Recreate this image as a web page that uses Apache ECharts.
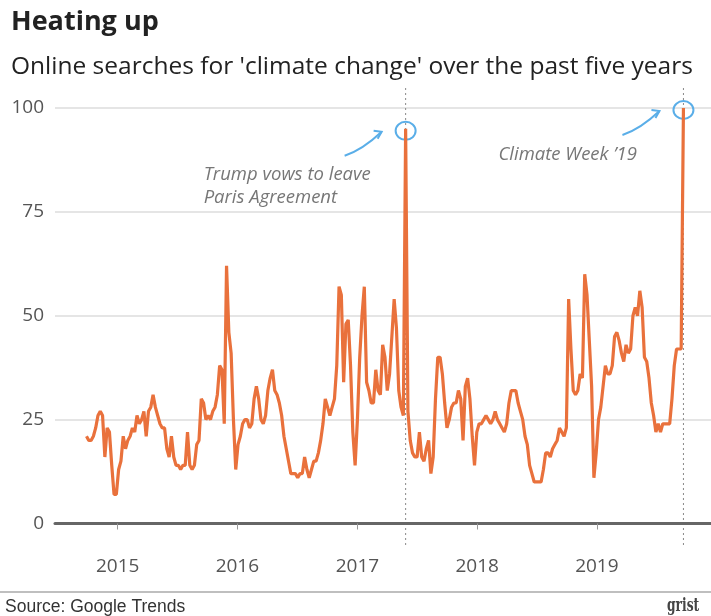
<!DOCTYPE html>
<html>
<head>
<meta charset="utf-8">
<script src="https://cdn.jsdelivr.net/npm/echarts@6/dist/echarts.min.js"></script>
<style>
  html, body { margin: 0; padding: 0; background: #fff; }
  #chart { width: 711px; height: 616px; }
</style>
</head>
<body>
<div id="chart"></div>
<script>
// weekly Google Trends index, first week starts 2014-09-28
const firstWeek = '2014-09-28';
const searchIndex = [
  21, 20, 20, 21, 23, 26, 27, 26, 16, 23, 22, 14, 7, 7, 13, 15, 21, 18, 20, 21,
  23, 22, 26, 24, 25, 27, 21, 27, 28, 31, 28, 26, 24, 23, 23, 18, 16, 21, 16, 14,
  14, 13, 14, 14, 22, 14, 13, 14, 19, 20, 30, 29,
  25, 26, 25, 27, 28, 31, 38, 37, 24, 62, 46, 41, 25, 13, 19, 21, 24, 25, 25, 23,
  24, 30, 33, 30, 25, 24, 26, 32, 35, 37, 32, 31, 29, 26, 21, 18, 15, 12, 12, 12,
  11, 12, 12, 16, 13, 11, 13, 15, 15, 17, 20, 24, 30,
  28, 26, 28, 30, 38, 57, 55, 34, 48, 49, 38, 22, 14, 25, 40, 50, 57, 34, 32, 29,
  29, 37, 32, 31, 43, 40, 32, 36, 45, 54, 47, 32, 28, 26, 95, 27, 20, 17, 16, 16,
  22, 16, 15, 18, 20, 12, 16, 30, 40, 40, 36, 29,
  23, 25, 28, 29, 29, 32, 30, 20, 33, 35, 30, 21, 14, 22, 24, 24, 25, 26, 25, 24,
  25, 27, 25, 24, 23, 22, 24, 29, 32, 32, 32, 29, 27, 25, 21, 19, 14, 12, 10, 10,
  10, 10, 13, 17, 17, 16, 18, 19, 20, 23, 22, 21,
  23, 54, 42, 32, 31, 32, 36, 35, 60, 55, 44, 33, 11, 17, 25, 28, 33, 38, 36, 36,
  38, 45, 46, 44, 41, 39, 43, 41, 42, 50, 52, 50, 56, 52, 40, 39, 35, 29, 26, 22,
  24, 22, 24, 24, 24, 24, 30, 38, 42, 42, 42, 100
];
const yTicks = [0, 25, 50, 75, 100];
const xRange = ['2014-06-24', '2019-12-15'];

// annotated weeks
const events = [
  { week: '2017-05-28', value: 95, lines: ['Trump vows to leave', 'Paris Agreement'] },
  { week: '2019-09-22', value: 100, lines: ['Climate Week \u201919'] }
];

const DAY = 86400000;
const startMs = new Date(firstWeek + 'T00:00:00').getTime();
const seriesData = searchIndex.map((v, i) => [startMs + i * 7 * DAY, v]);

const chart = echarts.init(document.getElementById('chart'));

const option = {
  animation: false,
  textStyle: { fontFamily: 'Open Sans' },
  title: [
    {
      text: 'Heating up',
      left: 6, top: 4,
      textStyle: { fontFamily: 'Open Sans', fontWeight: 'bold', fontSize: 27, color: '#222' }
    },
    {
      text: "Online searches for 'climate change' over the past five years",
      left: 6, top: 50,
      textStyle: { fontFamily: 'Open Sans', fontWeight: 'normal', fontSize: 24.5, color: '#222' }
    }
  ],
  grid: { left: 55, right: 0, top: 108, bottom: 92.5 },
  xAxis: [
    {
      type: 'time',
      min: new Date(xRange[0] + 'T00:00:00').getTime(),
      max: new Date(xRange[1] + 'T00:00:00').getTime(),
      minInterval: 365 * DAY,
      maxInterval: 366 * DAY,
      offset: 22,
      axisLine: { show: false },
      axisTick: { show: true, length: 6, lineStyle: { color: '#999' } },
      axisLabel: {
        margin: 12,
        fontSize: 19,
        color: '#555',
        formatter: (val) => String(new Date(val).getFullYear())
      },
      splitLine: { show: false }
    },
    {
      type: 'time',
      position: 'bottom',
      min: new Date(xRange[0] + 'T00:00:00').getTime(),
      max: new Date(xRange[1] + 'T00:00:00').getTime(),
      axisLine: { show: true, lineStyle: { color: '#666', width: 3 } },
      axisTick: { show: false },
      axisLabel: { show: false },
      splitLine: { show: false }
    }
  ],
  yAxis: {
    type: 'value',
    min: yTicks[0],
    max: yTicks[yTicks.length - 1],
    interval: 25,
    axisLine: { show: false },
    axisTick: { show: false },
    axisLabel: { fontSize: 19, color: '#555', margin: 11 },
    splitLine: { lineStyle: { color: '#dcdcdc', width: 1.5 } }
  },
  series: [{
    type: 'line',
    xAxisIndex: 0,
    data: seriesData,
    showSymbol: false,
    lineStyle: { color: '#e9713c', width: 3.2 },
    itemStyle: { color: '#e9713c' }
  }]
};
chart.setOption(option);

// annotations placed from the axis scales
const graphics = [];
const blue = '#5aaee8';
events.forEach((ev, k) => {
  const t = new Date(ev.week + 'T00:00:00').getTime();
  const p = chart.convertToPixel({ seriesIndex: 0 }, [t, ev.value]);
  graphics.push({
    type: 'line', silent: true,
    shape: { x1: p[0], y1: 88, x2: p[0], y2: 548 },
    style: { stroke: '#888', lineWidth: 1, lineDash: [2, 3] }
  });
  graphics.push({
    type: 'ellipse', silent: true,
    shape: { cx: p[0], cy: p[1] + 2, rx: 10, ry: 9 },
    style: { fill: 'none', stroke: blue, lineWidth: 2 }
  });
  // arrow pointing to the circle
  const tipX = p[0] - 24, tipY = p[1] + 3;
  const tailX = tipX - 37, tailY = tipY + 24;
  graphics.push({
    type: 'bezierCurve', silent: true,
    shape: { x1: tailX, y1: tailY, x2: tipX, y2: tipY, cpx1: tailX + 18, cpy1: tailY - 6 },
    style: { stroke: blue, lineWidth: 2, fill: 'none' }
  });
  graphics.push({
    type: 'polyline', silent: true,
    shape: { points: [[tipX - 8, tipY - 1], [tipX, tipY], [tipX - 4, tipY + 7]] },
    style: { stroke: blue, lineWidth: 2, fill: 'none' }
  });
  ev.lines.forEach((ln, j) => {
    graphics.push({
      type: 'text', silent: true,
      x: k === 0 ? p[0] - 202 : p[0] - 185,
      y: k === 0 ? 175 + j * 23 : 155,
      style: {
        text: ln, fill: '#777', fontFamily: 'Open Sans', fontStyle: 'italic',
        fontSize: 18.5, verticalAlign: 'middle'
      }
    });
  });
});

graphics.push({
  type: 'line', silent: true,
  shape: { x1: 0, y1: 592, x2: 711, y2: 592 },
  style: { stroke: '#aaa', lineWidth: 1.5 }
});
graphics.push({
  type: 'text', silent: true, x: 5, y: 607,
  style: { text: 'Source: Google Trends', fill: '#333', fontFamily: 'Liberation Sans', fontSize: 17.5, verticalAlign: 'middle' }
});
graphics.push({
  type: 'text', silent: true, x: 667, y: 606, scaleX: 0.68,
  style: { text: 'grist', fill: '#444', fontFamily: 'DejaVu Serif', fontWeight: 'bold', fontSize: 18, verticalAlign: 'middle' }
});

chart.setOption({ graphic: graphics });

window.addEventListener('resize', () => chart.resize());
</script>
</body>
</html>
